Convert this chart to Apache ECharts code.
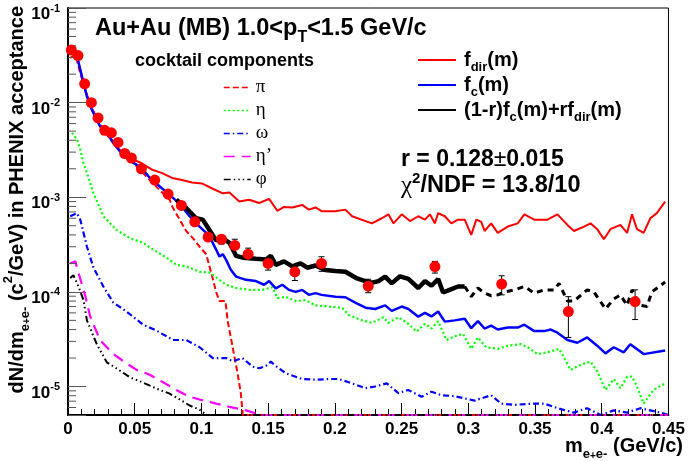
<!DOCTYPE html>
<html><head><meta charset="utf-8">
<script src="https://cdn.jsdelivr.net/npm/echarts@6/dist/echarts.min.js"></script>
<style>html,body{margin:0;padding:0;background:#fff}#c{width:688px;height:461px}</style>
</head><body><div id="c"></div>
<script>
// ---------- data ----------
const xTickLabels = ['0','0.05','0.1','0.15','0.2','0.25','0.3','0.35','0.4','0.45'];
const yTickExponents = [-1,-2,-3,-4,-5];
const yMinorTickValues = [6e-6,7e-6,8e-6,9e-6,2e-5,3e-5,4e-5,5e-5,6e-5,7e-5,8e-5,9e-5,
  2e-4,3e-4,4e-4,5e-4,6e-4,7e-4,8e-4,9e-4,2e-3,3e-3,4e-3,5e-3,6e-3,7e-3,8e-3,9e-3,
  2e-2,3e-2,4e-2,5e-2,6e-2,7e-2,8e-2,9e-2];

const fDir = [[0.003,0.035],[0.0042,0.036],[0.0067,0.031],[0.0092,0.0224],[0.0116,0.0161],[0.0142,0.0116],[0.0179,0.0084],[0.0216,0.0066],[0.0241,0.0056],[0.029,0.0048],[0.034,0.0038],[0.039,0.0031],[0.044,0.0027],[0.0489,0.0025],[0.055,0.0023],[0.0632,0.00195],[0.0706,0.0018],[0.078,0.0016],[0.0855,0.00152],[0.0929,0.00143],[0.1003,0.0014],[0.1085,0.00123],[0.116,0.0011],[0.121,0.00112],[0.1284,0.0009],[0.1358,0.00094],[0.1433,0.00087],[0.1507,0.00096],[0.1569,0.00072],[0.1619,0.00079],[0.1681,0.00078],[0.1755,0.00083],[0.1805,0.00074],[0.1855,0.00078],[0.1904,0.00071],[0.2004,0.00071],[0.2079,0.00074],[0.2129,0.00063],[0.2277,0.00053],[0.2352,0.0006],[0.2401,0.00066],[0.2439,0.00053],[0.2501,0.00066],[0.2563,0.00056],[0.2625,0.00063],[0.2675,0.00058],[0.2712,0.00066],[0.2749,0.00053],[0.2774,0.00068],[0.2824,0.00063],[0.2873,0.00053],[0.2923,0.00058],[0.2973,0.00058],[0.3022,0.0004],[0.306,0.00058],[0.3097,0.00055],[0.3122,0.00044],[0.3171,0.00053],[0.3221,0.00042],[0.3295,0.00049],[0.337,0.00053],[0.342,0.00066],[0.3494,0.00058],[0.3593,0.00058],[0.3668,0.00066],[0.3743,0.00051],[0.3792,0.00044],[0.3867,0.00049],[0.3916,0.00053],[0.3966,0.00046],[0.4016,0.00036],[0.4065,0.00046],[0.414,0.00051],[0.419,0.00042],[0.4227,0.00066],[0.4264,0.00046],[0.4314,0.00042],[0.4364,0.0006],[0.4413,0.00068],[0.4475,0.0009]];

const fC = [[0.003,0.035],[0.0042,0.036],[0.0067,0.031],[0.0092,0.0224],[0.0116,0.0161],[0.0142,0.0116],[0.0179,0.0084],[0.0216,0.0066],[0.0241,0.0056],[0.029,0.0048],[0.034,0.00375],[0.039,0.00305],[0.044,0.0026],[0.0514,0.0022],[0.0563,0.00195],[0.0613,0.0016],[0.0688,0.0013],[0.0762,0.00106],[0.0837,0.00085],[0.0911,0.00063],[0.0986,0.00049],[0.1036,0.00042],[0.1073,0.000355],[0.111,0.00028],[0.1135,0.000236],[0.116,0.00025],[0.1185,0.000218],[0.122,0.000171],[0.126,0.000145],[0.1334,0.000134],[0.1408,0.00013],[0.147,0.000119],[0.1507,0.00013],[0.1557,0.000109],[0.1606,0.000119],[0.1656,0.000105],[0.1706,0.0001],[0.1755,0.000105],[0.1805,0.000093],[0.1855,0.000097],[0.19,0.000093],[0.2004,0.000089],[0.2079,0.0000878],[0.216,0.000076],[0.223,0.000068],[0.2302,0.000066],[0.2377,0.000072],[0.2426,0.000063],[0.2501,0.00007],[0.2551,0.000066],[0.2625,0.0000547],[0.2675,0.00006],[0.2724,0.000055],[0.2774,0.000062],[0.2824,0.0000485],[0.2898,0.00005],[0.2973,0.000052],[0.3022,0.0000413],[0.3072,0.000049],[0.3122,0.000041],[0.3171,0.000044],[0.3221,0.00004],[0.3295,0.000042],[0.337,0.000042],[0.342,0.000045],[0.3494,0.0000385],[0.3569,0.0000385],[0.3618,0.00004],[0.3668,0.000037],[0.3743,0.000031],[0.3817,0.000029],[0.3891,0.000033],[0.3966,0.000027],[0.4028,0.0000224],[0.409,0.000026],[0.4165,0.000023],[0.4214,0.000028],[0.4314,0.000022],[0.4475,0.000024]];

const combSolid = [[0.0812,0.00094],[0.0886,0.00077],[0.096,0.0006],[0.101,0.00058],[0.106,0.00045],[0.111,0.00035],[0.116,0.00037],[0.121,0.00033],[0.126,0.00024],[0.131,0.00023],[0.1408,0.000224],[0.1483,0.00022],[0.152,0.00024],[0.1557,0.000193],[0.1619,0.00021],[0.1681,0.000186],[0.1743,0.0002],[0.1793,0.00018],[0.1855,0.00019],[0.1929,0.00017],[0.2004,0.000166],[0.2079,0.000163],[0.216,0.00014],[0.2228,0.00013],[0.2277,0.000125],[0.2327,0.00013],[0.2377,0.000145],[0.2426,0.000123],[0.2488,0.000146],[0.2551,0.000137],[0.2625,0.00011],[0.2675,0.00013],[0.2724,0.000116],[0.2774,0.000137],[0.2811,0.0000985],[0.286,0.000105],[0.2923,0.000114],[0.2973,0.000114]];
const combDashed = [[0.2973,0.000114],[0.3022,0.000089],[0.3072,0.00011],[0.3122,0.000097],[0.3171,0.000091],[0.3221,0.000093],[0.3271,0.0001],[0.3345,0.000105],[0.342,0.000114],[0.3494,0.000097],[0.3569,0.000105],[0.3643,0.000105],[0.368,0.000123],[0.3743,0.00008],[0.3792,0.00008],[0.3891,0.000105],[0.3941,0.0001],[0.4028,0.000066],[0.409,0.000084],[0.414,0.000093],[0.419,0.000072],[0.4227,0.000105],[0.4289,0.000072],[0.4339,0.00007],[0.4376,0.0001],[0.4475,0.000127]];

const piC = [[0.0017,0.0297],[0.0055,0.032],[0.0092,0.0205],[0.013,0.0137],[0.0166,0.0095],[0.0216,0.0069],[0.0265,0.0052],[0.034,0.0037],[0.0414,0.0029],[0.0489,0.0023],[0.0563,0.0018],[0.0638,0.0014],[0.0712,0.0011],[0.0762,0.00094],[0.0787,0.00077],[0.0837,0.00058],[0.0886,0.00044],[0.0936,0.00037],[0.0986,0.0003],[0.1036,0.00025],[0.1073,0.00016],[0.111,0.0001],[0.1135,0.00008],[0.118,0.00008],[0.1197,0.000049],[0.1234,0.000026],[0.127,0.000014],[0.1295,0.0000085],[0.131,0.000005],[0.45,0.000005]];

const etaC = [[0.003,0.0048],[0.0067,0.0041],[0.0092,0.0032],[0.0116,0.0023],[0.0154,0.0016],[0.0191,0.0011],[0.0241,0.00076],[0.0265,0.00063],[0.0365,0.00045],[0.0464,0.00037],[0.0563,0.00033],[0.0638,0.00028],[0.0738,0.00023],[0.0812,0.000193],[0.0886,0.000186],[0.0986,0.000163],[0.1061,0.00016],[0.1135,0.000134],[0.1185,0.000119],[0.126,0.00011],[0.1358,0.000105],[0.1457,0.000105],[0.1532,0.000112],[0.157,0.000086],[0.1631,0.000089],[0.1706,0.00008],[0.178,0.000082],[0.1855,0.000072],[0.1954,0.00007],[0.2054,0.000068],[0.2104,0.000057],[0.2203,0.00005],[0.2277,0.000047],[0.2364,0.000054],[0.2401,0.000047],[0.2476,0.000054],[0.2551,0.000046],[0.2612,0.000038],[0.2675,0.000046],[0.2724,0.000041],[0.2774,0.000049],[0.2836,0.000031],[0.2898,0.000034],[0.296,0.000036],[0.3022,0.000025],[0.3072,0.000033],[0.3134,0.000026],[0.3221,0.000025],[0.3295,0.000027],[0.3395,0.000028],[0.3445,0.000026],[0.3519,0.000022],[0.3593,0.000023],[0.3681,0.000025],[0.3767,0.000015],[0.3842,0.000017],[0.3916,0.0000183],[0.3966,0.0000145],[0.4028,0.0000092],[0.409,0.000012],[0.414,0.0000096],[0.419,0.0000127],[0.4227,0.0000127],[0.4264,0.00001],[0.4314,0.0000066],[0.4388,0.0000092],[0.4475,0.0000108]];

const omegaC = [[0.0017,0.00063],[0.0067,0.00068],[0.0092,0.00058],[0.0142,0.0003],[0.0191,0.00018],[0.0265,0.000114],[0.034,0.000077],[0.0439,0.000062],[0.0563,0.000045],[0.0663,0.000039],[0.0787,0.000031],[0.0886,0.000031],[0.0986,0.000026],[0.1085,0.00002],[0.1185,0.00002],[0.1234,0.0000185],[0.1308,0.00002],[0.1383,0.0000162],[0.1433,0.0000156],[0.1483,0.0000165],[0.152,0.0000183],[0.1557,0.0000165],[0.1631,0.0000138],[0.1755,0.000012],[0.1855,0.0000118],[0.1954,0.000012],[0.2029,0.000012],[0.2104,0.0000111],[0.2228,0.0000096],[0.2302,0.00001],[0.2389,0.0000108],[0.2476,0.0000085],[0.255,0.0000092],[0.2649,0.0000078],[0.2724,0.0000088],[0.2798,0.0000081],[0.2898,0.0000079],[0.3047,0.0000071],[0.3171,0.0000081],[0.3246,0.0000066],[0.3345,0.0000064],[0.3494,0.0000066],[0.3569,0.0000066],[0.3668,0.0000059],[0.3792,0.0000053],[0.3891,0.0000059],[0.3991,0.000005],[0.409,0.0000056],[0.419,0.0000053],[0.4289,0.0000059],[0.4438,0.0000053],[0.45,0.000005]];

const etapC = [[0.0017,0.0002],[0.0055,0.00021],[0.009,0.00014],[0.013,0.00009],[0.0166,0.000055],[0.024,0.000031],[0.034,0.000022],[0.044,0.0000175],[0.0514,0.000015],[0.0613,0.0000133],[0.0712,0.0000111],[0.0812,0.0000092],[0.091,0.0000078],[0.0986,0.0000073],[0.111,0.0000066],[0.121,0.0000061],[0.1334,0.0000056],[0.1408,0.0000052],[0.145,0.000005],[0.45,0.000005]];

const phiC = [[0.0017,0.00014],[0.004,0.00015],[0.0079,0.000114],[0.0116,0.000082],[0.0142,0.00005],[0.0216,0.000028],[0.0291,0.000018],[0.0365,0.0000155],[0.0464,0.0000125],[0.0563,0.000011],[0.0663,0.0000095],[0.0762,0.0000084],[0.0837,0.0000073],[0.0911,0.0000063],[0.0986,0.0000057],[0.1036,0.000005],[0.45,0.000005]];

const ptX  = [0.0025,0.0075,0.0125,0.0175,0.0225,0.0275,0.0325,0.0375,0.0425,0.0475,0.055,0.065,0.075,0.085,0.095,0.105,0.115,0.125,0.135,0.15,0.17,0.19,0.225,0.275,0.325,0.375,0.425];
const ptY  = [0.036,0.0314,0.0158,0.01,0.0069,0.0051,0.0048,0.0038,0.0029,0.0026,0.002,0.00152,0.00108,0.00082,0.00055,0.00038,0.00036,0.00031,0.00025,0.0002,0.000163,0.0002,0.000115,0.000185,0.000121,0.000062,0.000079];
const ptLo = [0.035,0.0305,0.0153,0.0097,0.0067,0.0049,0.0046,0.0036,0.0028,0.0025,0.0019,0.00146,0.00103,0.00078,0.00052,0.00035,0.00032,0.00028,0.00022,0.00017,0.000132,0.000165,0.000098,0.000158,0.000093,0.000033,0.000051];
const ptHi = [0.037,0.0323,0.0163,0.0103,0.0071,0.0053,0.005,0.004,0.003,0.0027,0.0021,0.00158,0.00113,0.00086,0.00058,0.00041,0.00039,0.00036,0.00029,0.00023,0.000193,0.000235,0.000136,0.00021,0.000148,0.000089,0.000105];

// ---------- chart ----------
const FONT = '"Liberation Sans", Arial, sans-serif';
const SERIF = '"Liberation Serif", "DejaVu Serif", serif';
const chart = echarts.init(document.getElementById('c'), null, {renderer: 'canvas'});

function lineSeries(name, data, color, width, type, z) {
  return {name, type: 'line', data, showSymbol: false, symbol: 'none', silent: true,
    lineStyle: {color, width, type, cap: 'butt'}, itemStyle: {color}, z, animation: false};
}

const points = ptX.map((x, i) => [x, ptY[i]]);
const errs = ptX.map((x, i) => [x, ptLo[i], ptHi[i]]);

const B = (size, lh, va, extra) => Object.assign({fontSize: size, fontWeight: 'bold', fontFamily: FONT, lineHeight: lh, verticalAlign: va, color: '#000'}, extra || {});

const option = {
  animation: false,
  backgroundColor: '#fff',
  grid: {left: 68, right: 16, top: 8, bottom: 46, show: true, borderColor: '#000', borderWidth: 1, backgroundColor: 'transparent'},
  xAxis: {
    type: 'value', min: 0, max: 0.45, interval: 0.05,
    axisLine: {onZero: false, lineStyle: {color: '#000', width: 2}},
    axisTick: {inside: true, length: 12, lineStyle: {color: '#000', width: 1}},
    minorTick: {show: true, splitNumber: 5, length: 6, lineStyle: {color: '#000', width: 1}},
    splitLine: {show: false}, minorSplitLine: {show: false},
    axisLabel: {margin: 6, color: '#000', fontSize: 17, fontWeight: 'bold', fontFamily: FONT,
      formatter: v => xTickLabels[Math.round(v / 0.05)]}
  },
  yAxis: {
    type: 'log', logBase: 10, min: 5e-6, max: 0.1,
    axisLine: {lineStyle: {color: '#000', width: 2}},
    axisTick: {inside: true, length: 18, lineStyle: {color: '#555', width: 1}},
    splitLine: {show: false},
    axisLabel: {margin: 8, padding: [10, 0, 0, 0],
      formatter: v => {
        const l = Math.log10(v), e = Math.round(l);
        if (Math.abs(l - e) > 0.01 || yTickExponents.indexOf(e) < 0) return '';
        return '{b|10}{e|' + e + '}';
      },
      rich: {b: B(17, 20, 'bottom'), e: B(11, 6, 'top')}
    }
  },
  legend: [
    {orient: 'vertical', left: 223, top: 77.5, itemWidth: 27, itemHeight: 14, itemGap: 3, padding: 0,
      selectedMode: false, data: ['π', 'η', 'ω', 'η’', 'φ'],
      itemStyle: {opacity: 0, borderWidth: 0},
      lineStyle: {width: 1.5},
      textStyle: {fontSize: 19, fontFamily: SERIF, color: '#000', lineHeight: 20, padding: [0, 0, 0, 0]}},
    {orient: 'vertical', left: 417, top: 50, itemWidth: 38, itemHeight: 14, itemGap: 1, padding: 0,
      selectedMode: false, data: ['fdir', 'fc', 'comb'],
      itemStyle: {opacity: 0, borderWidth: 0},
      formatter: n => n === 'fdir' ? '{m|f}{s|dir}{m|(m)}' : n === 'fc' ? '{m|f}{s|c}{m|(m)}'
        : '{m|(1-r)f}{s|c}{m|(m)+rf}{s|dir}{m|(m)}',
      textStyle: {padding: [0, 0, 0, 3], rich: {m: B(20, 28, 'middle'), s: B(13, 12, 'bottom')}}}
  ],
  graphic: [
    {type: 'text', x: 95, y: 29, silent: true, style: {text: '{m|Au+Au (MB) 1.0<p}{t|T}{m|<1.5 GeV/c}',
      rich: {m: B(23.5, 34, 'middle'), t: B(16, 14, 'bottom')}, align: 'left', verticalAlign: 'middle', fill: '#000'}},
    {type: 'text', x: 135, y: 61, silent: true, style: {text: 'cocktail components', fontSize: 18, fontWeight: 'bold',
      fontFamily: FONT, fill: '#000', align: 'left', verticalAlign: 'middle'}},
    {type: 'text', x: 401, y: 160, silent: true, style: {text: '{m|r = 0.128}{n|±}{m|0.015}',
      rich: {m: B(23, 30, 'middle'), n: {fontSize: 23, fontFamily: FONT, lineHeight: 30, verticalAlign: 'middle', color: '#000'}},
      align: 'left', verticalAlign: 'middle', fill: '#000'}},
    {type: 'text', x: 401, y: 186, silent: true, style: {text: '{g|χ}{p|2}{m|/NDF = 13.8/10}',
      rich: {g: {fontSize: 25, fontFamily: SERIF, lineHeight: 30, verticalAlign: 'middle', color: '#000'},
             p: B(15, 10, 'top'), m: B(23.5, 30, 'middle')}, align: 'left', verticalAlign: 'middle', fill: '#000'}},
    {type: 'text', x: 683, y: 446, silent: true, style: {text: '{m|m}{s|e}{u|+}{s|e}{w|-}{m| (GeV/c)}',
      rich: {m: B(20, 30, 'middle'), s: B(13, 16, 'bottom'), u: B(10, 24, 'bottom'), w: B(13, 24, 'bottom')}, align: 'right', verticalAlign: 'middle', fill: '#000'}},
    {type: 'text', x: 17, y: 6, rotation: Math.PI / 2, silent: true, style: {
      text: '{m|dN/dm}{s|e}{u|+}{s|e}{w|-}{m| (c}{p|2}{m|/GeV) in PHENIX acceptance}',
      rich: {m: B(20, 30, 'middle'), s: B(13, 16, 'bottom'), u: B(10, 24, 'bottom'), w: B(13, 24, 'bottom'), p: B(13, 14, 'top')},
      align: 'right', verticalAlign: 'middle', fill: '#000'}}
  ],
  series: [
    {type: 'custom', silent: true, z: 3, data: yMinorTickValues.map(v => [0, v]), encode: {x: 0, y: 1},
      renderItem: (p, api) => { const c = api.coord([0, api.value(1)]);
        return {type: 'line', shape: {x1: c[0], y1: c[1], x2: c[0] + 8, y2: c[1]}, style: {stroke: '#555', lineWidth: 1}}; }},
    lineSeries('π', piC, '#ff0000', 2, [6, 3], 2),
    lineSeries('η', etaC, '#00ff00', 2.2, [2, 2.5], 2),
    lineSeries('ω', omegaC, '#0000ff', 2.2, [6, 3, 1.5, 3], 2),
    lineSeries('η’', etapC, '#ff00ff', 2.2, [11, 7], 2),
    lineSeries('φ', phiC, '#000000', 2, [7, 3, 1.5, 3, 1.5, 3, 1.5, 3], 2),
    lineSeries('fdir', fDir, '#ff0000', 2, 'solid', 4),
    lineSeries('fc', fC, '#0000ff', 2.5, 'solid', 5),
    lineSeries('comb', combSolid, '#000000', 4.5, 'solid', 6),
    lineSeries('combDashed', combDashed, '#000000', 3, [6, 5], 6),
    {type: 'custom', silent: true, z: 8, data: errs, encode: {x: 0, y: [1, 2]},
      renderItem: (params, api) => {
        const x = api.value(0), a = api.coord([x, api.value(1)]), b = api.coord([x, api.value(2)]);
        const s = {stroke: '#000', lineWidth: 1};
        return {type: 'group', children: [
          {type: 'line', shape: {x1: a[0], y1: a[1], x2: b[0], y2: b[1]}, style: s},
          {type: 'line', shape: {x1: a[0] - 3, y1: a[1], x2: a[0] + 3, y2: a[1]}, style: s},
          {type: 'line', shape: {x1: b[0] - 3, y1: b[1], x2: b[0] + 3, y2: b[1]}, style: s}]};
      }},
    {type: 'scatter', name: 'data', data: points, symbol: 'circle', symbolSize: 11, silent: true,
      itemStyle: {color: '#ff0000', opacity: 1}, z: 10}
  ]
};
chart.setOption(option);
</script>
</body></html>
